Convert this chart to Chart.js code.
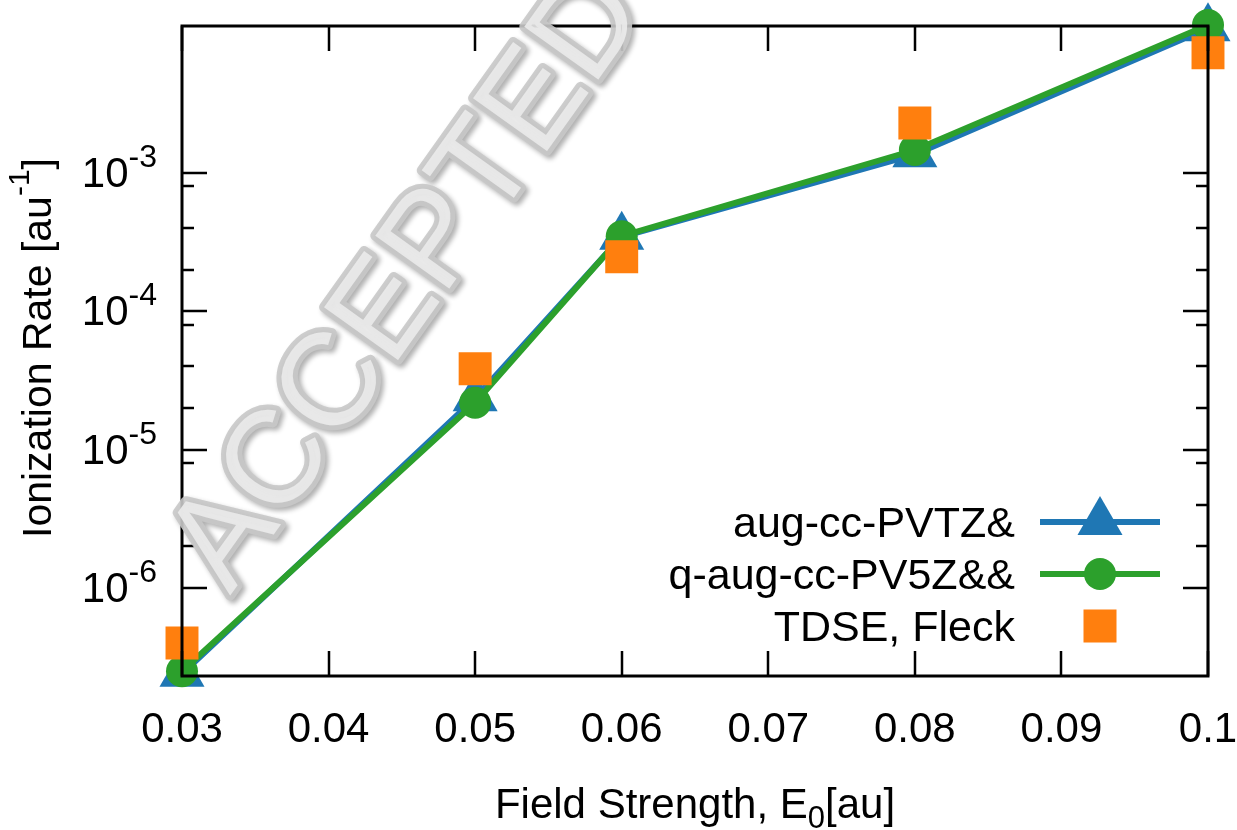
<!DOCTYPE html>
<html>
<head>
<meta charset="utf-8">
<title>Ionization Rate vs Field Strength</title>
<script src="https://cdn.jsdelivr.net/npm/chart.js@4.4.1/dist/chart.umd.min.js"></script>
<style>
  html, body { margin: 0; padding: 0; background: #ffffff; }
  #wrap { width: 1237px; height: 830px; }
</style>
</head>
<body>
<div id="wrap"><canvas id="rateChart" width="1237" height="830"></canvas></div>
<script>
// data
const fieldStrength = [0.03, 0.05, 0.06, 0.08, 0.1];
const rateTZ = [2.4e-7, 2.35e-5, 3.45e-4, 1.36e-3, 1.11e-2];
const rate5Z = [2.5e-7, 2.18e-5, 3.48e-4, 1.46e-3, 1.17e-2];
const rateTDSE = [4.0e-7, 3.84e-5, 2.47e-4, 2.29e-3, 7.36e-3];
const seriesLabels = ['aug-cc-PVTZ&', 'q-aug-cc-PV5Z&&', 'TDSE, Fleck'];

const xTickValues = [0.03, 0.04, 0.05, 0.06, 0.07, 0.08, 0.09, 0.1];
const xTickLabels = ['0.03', '0.04', '0.05', '0.06', '0.07', '0.08', '0.09', '0.1'];
const yMajorExps = [-6, -5, -4, -3];
const yMinorFactors = [2, 4, 8];

const FONT = '"Liberation Sans", Arial, Helvetica, sans-serif';
const COLORS = { tz: '#1f77b4', q5z: '#2ca02c', tdse: '#ff7f0e' };

function toPoints(ys) {
  return fieldStrength.map((x, i) => ({ x: x, y: ys[i] }));
}

// text with a raised / lowered smaller part, drawn left to right
function drawParts(ctx, parts, x, y) {
  let cx = x;
  parts.forEach(p => {
    ctx.font = p.size + 'px ' + FONT;
    ctx.fillText(p.text, cx, y - (p.shift || 0));
    cx += ctx.measureText(p.text).width;
  });
}
function partsWidth(ctx, parts) {
  let w = 0;
  parts.forEach(p => {
    ctx.font = p.size + 'px ' + FONT;
    w += ctx.measureText(p.text).width;
  });
  return w;
}

function drawMarker(ctx, style, x, y, color) {
  ctx.fillStyle = color;
  ctx.beginPath();
  if (style === 'triangle') {
    const r = 26;
    ctx.moveTo(x, y - r);
    ctx.lineTo(x + r * Math.sqrt(3) / 2, y + r / 2);
    ctx.lineTo(x - r * Math.sqrt(3) / 2, y + r / 2);
    ctx.closePath();
  } else if (style === 'circle') {
    ctx.arc(x, y, 16, 0, Math.PI * 2);
  } else {
    ctx.rect(x - 16.5, y - 16.5, 33, 33);
  }
  ctx.fill();
}

const decorPlugin = {
  id: 'decor',
  afterDatasetsDraw(chart) {
    const ctx = chart.ctx;
    const area = chart.chartArea;
    const xs = chart.scales.x;
    const ys = chart.scales.y;
    ctx.save();

    // frame
    ctx.strokeStyle = '#000';
    ctx.lineWidth = 3;
    ctx.strokeRect(area.left, area.top, area.right - area.left, area.bottom - area.top);

    // x ticks (inside, mirrored)
    ctx.lineWidth = 2.5;
    ctx.beginPath();
    xTickValues.forEach(v => {
      const px = Math.round(xs.getPixelForValue(v));
      ctx.moveTo(px, area.bottom);
      ctx.lineTo(px, area.bottom - 25);
      ctx.moveTo(px, area.top);
      ctx.lineTo(px, area.top + 25);
    });
    // y ticks: majors plus minors between labelled decades
    yMajorExps.forEach((e, i) => {
      const py = Math.round(ys.getPixelForValue(Math.pow(10, e)));
      ctx.moveTo(area.left, py);
      ctx.lineTo(area.left + 25, py);
      ctx.moveTo(area.right, py);
      ctx.lineTo(area.right - 25, py);
      if (i < yMajorExps.length - 1) {
        yMinorFactors.forEach(f => {
          const my = Math.round(ys.getPixelForValue(f * Math.pow(10, e)));
          ctx.moveTo(area.left, my);
          ctx.lineTo(area.left + 12, my);
          ctx.moveTo(area.right, my);
          ctx.lineTo(area.right - 12, my);
        });
      }
    });
    ctx.stroke();

    ctx.fillStyle = '#000';
    ctx.textBaseline = 'alphabetic';

    // x tick labels
    ctx.textAlign = 'center';
    ctx.font = '42px ' + FONT;
    xTickValues.forEach((v, i) => {
      ctx.fillText(xTickLabels[i], xs.getPixelForValue(v), 742);
    });

    // y tick labels 10^n
    ctx.textAlign = 'left';
    yMajorExps.forEach(e => {
      const py = ys.getPixelForValue(Math.pow(10, e));
      const parts = [{ text: '10', size: 42 }, { text: '-' + Math.abs(e), size: 32, shift: 20 }];
      const w = partsWidth(ctx, parts);
      drawParts(ctx, parts, 157 - w, py + 14);
    });

    // x axis title
    const xt = [
      { text: 'Field Strength, E', size: 42 },
      { text: '0', size: 31, shift: -10 },
      { text: '[au]', size: 42 }
    ];
    const xtw = partsWidth(ctx, xt);
    drawParts(ctx, xt, (area.left + area.right) / 2 - xtw / 2, 818);

    // y axis title
    const yt = [
      { text: 'Ionization Rate [au', size: 41 },
      { text: '-1', size: 30, shift: 22 },
      { text: ']', size: 41 }
    ];
    ctx.save();
    ctx.translate(51, 348);
    ctx.rotate(-Math.PI / 2);
    const ytw = partsWidth(ctx, yt);
    drawParts(ctx, yt, -ytw / 2, 0);
    ctx.restore();

    // legend (text right aligned, sample to the right)
    const rows = [
      { y: 522, color: COLORS.tz, marker: 'triangle', line: true },
      { y: 574, color: COLORS.q5z, marker: 'circle', line: true },
      { y: 626, color: COLORS.tdse, marker: 'rect', line: false }
    ];
    rows.forEach((r, i) => {
      ctx.fillStyle = '#000';
      ctx.textAlign = 'right';
      ctx.font = '43px ' + FONT;
      ctx.fillText(seriesLabels[i], 1015, r.y + 15);
      if (r.line) {
        ctx.strokeStyle = r.color;
        ctx.lineWidth = 6;
        ctx.beginPath();
        ctx.moveTo(1040, r.y);
        ctx.lineTo(1160, r.y);
        ctx.stroke();
      }
      drawMarker(ctx, r.marker, 1100, r.y, r.color);
    });

    // watermark
    ctx.save();
    ctx.globalAlpha = 0.9;
    ctx.translate(409, 282);
    ctx.rotate(-54.5 * Math.PI / 180);
    ctx.textAlign = 'center';
    ctx.textBaseline = 'middle';
    ctx.font = '132px ' + FONT;
    ctx.lineJoin = 'round';
    ctx.shadowColor = 'rgba(0,0,0,0.35)';
    ctx.shadowBlur = 5;
    ctx.shadowOffsetX = 3;
    ctx.shadowOffsetY = 3;
    ctx.strokeStyle = '#c8c8c8';
    ctx.lineWidth = 10;
    ctx.strokeText('ACCEPTED', 0, 0);
    ctx.shadowColor = 'transparent';
    ctx.fillStyle = '#ebebeb';
    ctx.fillText('ACCEPTED', 0, 0);
    ctx.restore();

    ctx.restore();
  }
};

new Chart(document.getElementById('rateChart').getContext('2d'), {
  type: 'line',
  data: {
    datasets: [
      {
        label: seriesLabels[0],
        data: toPoints(rateTZ),
        borderColor: COLORS.tz,
        backgroundColor: COLORS.tz,
        borderWidth: 6,
        pointStyle: 'triangle',
        pointRadius: 26,
        pointBorderWidth: 0,
        clip: false,
        order: 3
      },
      {
        label: seriesLabels[1],
        data: toPoints(rate5Z),
        borderColor: COLORS.q5z,
        backgroundColor: COLORS.q5z,
        borderWidth: 6,
        pointStyle: 'circle',
        pointRadius: 16,
        pointBorderWidth: 0,
        clip: false,
        order: 2
      },
      {
        label: seriesLabels[2],
        data: toPoints(rateTDSE),
        borderColor: COLORS.tdse,
        backgroundColor: COLORS.tdse,
        showLine: false,
        pointStyle: 'rect',
        pointRadius: 23.3,
        pointBorderWidth: 0,
        clip: false,
        order: 1
      }
    ]
  },
  options: {
    responsive: false,
    animation: false,
    devicePixelRatio: 1,
    layout: { padding: { top: 22, right: 29, left: 0, bottom: 0 } },
    scales: {
      x: {
        type: 'linear',
        min: 0.03,
        max: 0.1,
        ticks: { display: false },
        grid: { display: false },
        border: { display: false },
        afterFit: s => { s.height = 154; }
      },
      y: {
        type: 'logarithmic',
        min: 2.31e-7,
        max: 1.15e-2,
        ticks: { display: false },
        grid: { display: false },
        border: { display: false },
        afterFit: s => { s.width = 182; }
      }
    },
    plugins: {
      legend: { display: false },
      tooltip: { enabled: false }
    }
  },
  plugins: [decorPlugin]
});
</script>
</body>
</html>
